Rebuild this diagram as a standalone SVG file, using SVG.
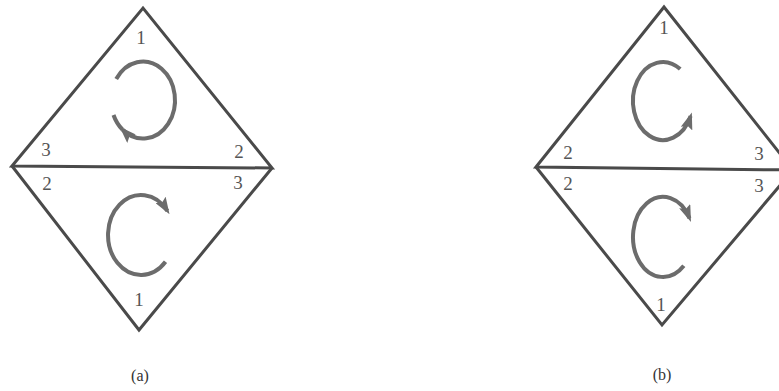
<svg xmlns="http://www.w3.org/2000/svg" width="779" height="391" viewBox="0 0 779 391">
<style>
.edge{fill:none;stroke:#4a4a4a;stroke-width:3;stroke-linejoin:miter}
.rot{fill:none;stroke:#6c6c6c;stroke-width:4;stroke-linecap:butt}
.lbl{font-family:"Liberation Serif",serif;font-size:19px;fill:#555;text-anchor:middle}
.cap{font-family:"Liberation Serif",serif;font-size:16px;fill:#333;text-anchor:middle}
</style>
<defs>
<marker id="ah" markerUnits="userSpaceOnUse" viewBox="0 0 17 12" markerWidth="17" markerHeight="12" refX="13" refY="6" orient="auto">
<path d="M0,0 L17,6 L0,12 L3,6 z" fill="#6c6c6c"/>
</marker>
</defs>
<rect width="779" height="391" fill="#fff"/>
<g id="connectors">
<path d="M116.2,79 A32,38.5 0 1 1 122.4,129.5" class="rot" marker-end="url(#ah)"/>
<path d="M122.4,129.5 A32,38.5 0 0 1 113.5,115" class="rot"/>
<path d="M165.5,261.8 A33,40 0 1 1 167.4,210.9" class="rot" marker-end="url(#ah)"/>
<path d="M680.2,69.1 A30,39 0 1 0 690.6,116.2" class="rot" marker-end="url(#ah)"/>
<path d="M683.8,265.8 A30,40 0 1 1 689.5,218.2" class="rot" marker-end="url(#ah)"/>
</g>
<g id="diagram-a">
<g id="a-upper">
<path d="M12,166 L143,8 L272,168 Z" class="edge"/>
<text x="141" y="44" class="lbl">1</text>
<text x="46" y="156" class="lbl">3</text>
<text x="239" y="158" class="lbl">2</text>
</g>
<g id="a-lower">
<path d="M12,166 L139,330 L272,168" class="edge"/>
<text x="47" y="190" class="lbl">2</text>
<text x="238" y="189" class="lbl">3</text>
<text x="139" y="306" class="lbl">1</text>
</g>
<text x="140" y="381" class="cap">(a)</text>
</g>
<g id="diagram-b">
<g id="b-upper">
<path d="M536,167 L664,7 L793,170 Z" class="edge"/>
<text x="664" y="34" class="lbl">1</text>
<text x="568" y="159" class="lbl">2</text>
<text x="759" y="160" class="lbl">3</text>
</g>
<g id="b-lower">
<path d="M536,167 L662,325 L793,170" class="edge"/>
<text x="568" y="190" class="lbl">2</text>
<text x="759" y="192" class="lbl">3</text>
<text x="661" y="311" class="lbl">1</text>
</g>
<text x="662" y="380" class="cap">(b)</text>
</g>
</svg>
